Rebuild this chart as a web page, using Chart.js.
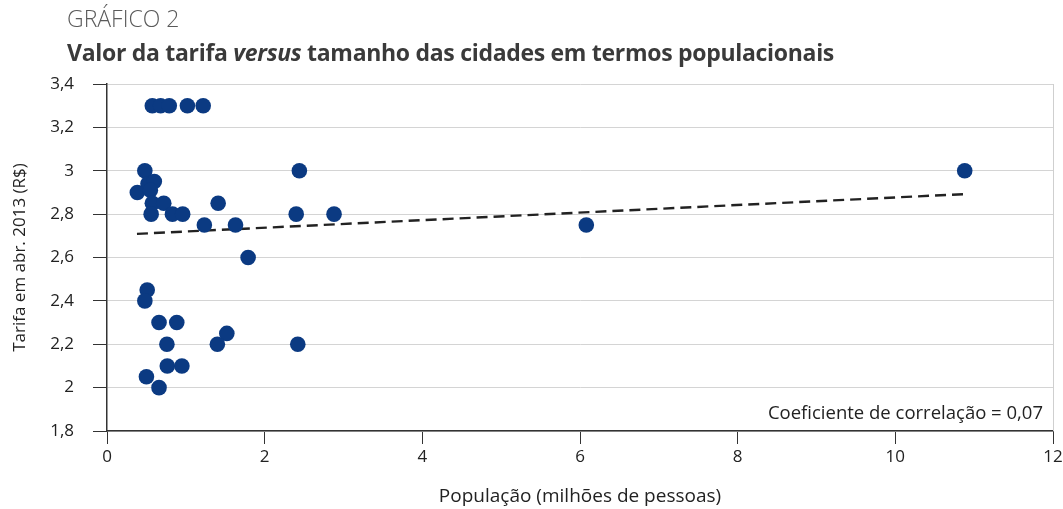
<!DOCTYPE html>
<html>
<head>
<meta charset="utf-8">
<script src="https://cdn.jsdelivr.net/npm/chart.js@4"></script>
<style>
  body { margin:0; background:#fff; font-family:"Open Sans", sans-serif; }
  #wrap { position:relative; width:1063px; height:509px; }
  #chart { position:absolute; left:0; top:0; }
  .sup { position:absolute; left:67px; top:2px; font-size:23px; color:#5a5a5a; font-weight:300; }
  .titre { position:absolute; left:67px; top:36px; font-size:23px; color:#3a3a3a; font-weight:700; letter-spacing:-0.3px; }
  .coef { position:absolute; right:20px; top:399px; font-size:18.5px; color:#222; }
</style>
</head>
<body>
<div id="wrap">
  <canvas id="chart" width="1063" height="509"></canvas>
  <div class="sup">GRÁFICO 2</div>
  <div class="titre">Valor da tarifa <i>versus</i> tamanho das cidades em termos populacionais</div>
  <div class="coef">Coeficiente de correlação = 0,07</div>
</div>
<script>
/*************************donnees*************************************/
// population (millions) et tarifa (R$) de chaque ville
const populacao = [0.575, 0.68, 0.79, 1.02, 1.22,
  0.48, 2.44, 10.88,
  0.52, 0.60,
  0.385, 0.55,
  0.575, 0.72, 1.41,
  0.56, 0.83, 0.96, 2.40, 2.88,
  1.235, 1.63, 6.08,
  1.79,
  0.51, 0.48,
  0.66, 0.885,
  1.52,
  0.76, 1.40, 2.42,
  0.765, 0.95,
  0.50,
  0.66];
const tarifa = [3.3, 3.3, 3.3, 3.3, 3.3,
  3.0, 3.0, 3.0,
  2.94, 2.95,
  2.9, 2.91,
  2.85, 2.85, 2.85,
  2.8, 2.8, 2.8, 2.8, 2.8,
  2.75, 2.75, 2.75,
  2.6,
  2.45, 2.4,
  2.3, 2.3,
  2.25,
  2.2, 2.2, 2.2,
  2.1, 2.1,
  2.05,
  2.0];
// droite de tendance
const tendanceX = [0.38, 10.92];
const tendanceY = [2.709, 2.893];

const nuage = populacao.map((p, i) => ({x: p, y: tarifa[i]}));
const droite = tendanceX.map((p, i) => ({x: p, y: tendanceY[i]}));

/*************************bord droit*************************************/
const bordDroit = {
  id: 'bordDroit',
  beforeDatasetsDraw(chart) {
    const a = chart.chartArea, c = chart.ctx;
    c.save();
    c.strokeStyle = '#cfcfcf';
    c.lineWidth = 1;
    c.beginPath();
    c.moveTo(a.right + 0.5, a.top);
    c.lineTo(a.right + 0.5, a.bottom);
    c.stroke();
    c.restore();
  }
};

const ctx = document.getElementById('chart');
const myChart = new Chart(ctx, {
  type: 'scatter',
  data: {
    datasets: [{
      label: 'Cidades',
      data: nuage,
      backgroundColor: '#0b3a82',
      borderWidth: 0,
      pointRadius: 7.8,
      order: 1
    },
    {
      type: 'line',
      label: 'Tendência',
      data: droite,
      borderColor: '#222',
      borderWidth: 2.4,
      borderDash: [11, 6],
      pointRadius: 0,
      fill: false,
      order: 2
    }]
  },
  options: {
    responsive: false,
    animation: false,
    layout: { padding: { top: 84, right: 0, bottom: 0, left: 0 } },
    plugins: {
      legend: { display: false },
      tooltip: { enabled: false }
    },
    scales: {
      x: {
        type: 'linear',
        min: 0, max: 12,
        ticks: { stepSize: 2, color: '#222', padding: 3, font: { family: 'Open Sans', size: 17 } },
        grid: { drawOnChartArea: false, tickLength: 13, tickColor: '#333' },
        border: { color: '#333', width: 1.5 },
        title: { display: true, text: 'População (milhões de pessoas)', color: '#222',
                 font: { family: 'Open Sans', size: 19 }, padding: { top: 0, bottom: 1 } },
        afterFit(scale) { scale.height = 78; scale.paddingRight = 10; }
      },
      y: {
        min: 1.8, max: 3.4,
        ticks: { stepSize: 0.2, color: '#222', padding: 19, font: { family: 'Open Sans', size: 17 },
                 callback: v => (Math.round(v * 10) / 10).toString().replace('.', ',') },
        grid: { color: '#d4d4d4', lineWidth: 1, tickLength: 14, tickColor: '#333' },
        border: { color: '#333', width: 1.5 },
        title: { display: true, text: 'Tarifa em abr. 2013 (R$)', color: '#222',
                 font: { family: 'Open Sans', size: 17 }, padding: { top: 10, bottom: 0 } },
        afterFit(scale) { scale.width = 107; }
      }
    }
  },
  plugins: [bordDroit]
});
</script>
</body>
</html>
